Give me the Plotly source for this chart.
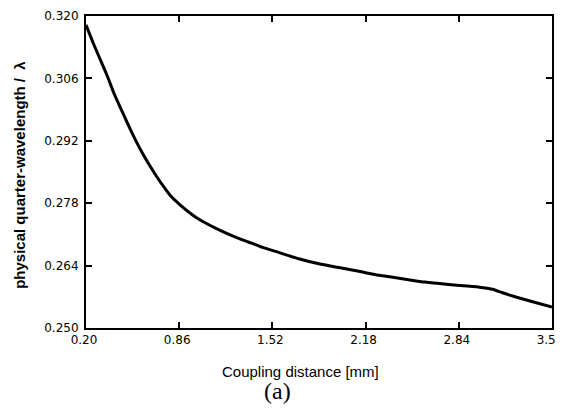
import plotly.graph_objects as go

coupling_mm = [0.20, 0.25, 0.30, 0.35, 0.40, 0.45, 0.50, 0.55, 0.60, 0.65, 0.70, 0.75, 0.80,
               0.86, 0.92, 0.98, 1.05, 1.15, 1.25, 1.35, 1.45, 1.57, 1.70, 1.85, 2.00, 2.15,
               2.30, 2.45, 2.60, 2.75, 2.90, 3.00, 3.08, 3.15, 3.25, 3.35, 3.50]
quarter_wl = [0.3180, 0.3140, 0.3103, 0.3066, 0.3025, 0.2990, 0.2955, 0.2922, 0.2892, 0.2865,
              0.2840, 0.2817, 0.2796, 0.2778, 0.2762, 0.2748, 0.2735, 0.2719, 0.2705, 0.2693,
              0.2681, 0.2669, 0.2656, 0.2644, 0.2635, 0.2626, 0.2617, 0.2610, 0.2603, 0.2598,
              0.2594, 0.2591, 0.2587, 0.2579, 0.2569, 0.2560, 0.2547]

x_ticks = [0.20, 0.86, 1.52, 2.18, 2.84, 3.50]
y_ticks = [0.250, 0.264, 0.278, 0.292, 0.306, 0.320]

fig = go.Figure()
fig.add_trace(go.Scatter(x=coupling_mm, y=quarter_wl, mode="lines",
                         line=dict(color="black", width=3, shape="spline", smoothing=0.5),
                         showlegend=False))

tick_font = dict(family="DejaVu Sans", size=12, color="black")
axis_common = dict(showline=True, linecolor="black", linewidth=2, mirror="ticks",
                   ticks="inside", ticklen=6, tickwidth=2, tickcolor="black",
                   showgrid=False, zeroline=False, tickfont=tick_font, automargin=False,
                   ticklabeloverflow="allow")

fig.update_xaxes(range=[0.20, 3.50], tickvals=x_ticks,
                 ticktext=[f"{v:.2f}" for v in x_ticks], ticklabelshift=-2, **axis_common)
fig.update_yaxes(range=[0.250, 0.320], tickvals=y_ticks,
                 ticktext=[f"{v:.3f}" for v in y_ticks], ticklabelstandoff=3, **axis_common)

fig.add_annotation(text="Coupling distance [mm]", xref="paper", yref="paper",
                   x=0.461, y=-0.139, showarrow=False, xanchor="center", yanchor="middle",
                   font=dict(family="Liberation Sans, Arial", size=15, color="black"))
fig.add_annotation(text="<b>physical quarter-wavelength /  λ</b>", xref="paper", yref="paper",
                   x=-0.143, y=0.492, showarrow=False, textangle=-90,
                   xanchor="center", yanchor="middle",
                   font=dict(family="Liberation Sans, Arial", size=15, color="black"))
fig.add_annotation(text="(a)", xref="paper", yref="paper", x=0.412, y=-0.203,
                   showarrow=False, xanchor="center", yanchor="middle",
                   font=dict(family="Liberation Serif, Times New Roman", size=24, color="black"))

# the page body has an 8px default margin, so the figure is sized/offset to land on the window
fig.update_layout(width=556, height=400, plot_bgcolor="white", paper_bgcolor="white",
                  margin=dict(l=78, r=12, t=8, b=79.5, autoexpand=False))

fig.write_html("out.html")
